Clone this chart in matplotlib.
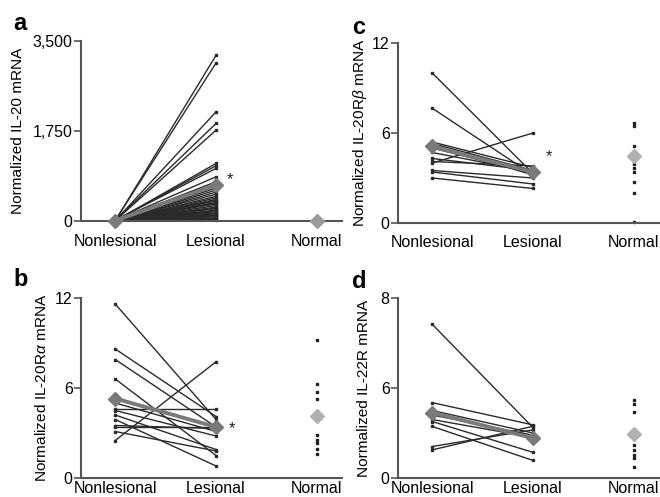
import matplotlib
matplotlib.use("Agg")
import matplotlib.pyplot as plt

plt.rcParams['font.family'] = ['Liberation Sans', 'DejaVu Sans']
plt.rcParams['mathtext.fontset'] = 'custom'
plt.rcParams['mathtext.it'] = 'Liberation Sans:italic'
plt.rcParams['mathtext.rm'] = 'Liberation Sans'

groups = ["Nonlesional", "Lesional", "Normal"]

# a: IL-20
a_nonles = [5, 10, 8, 12, 6, 4, 9, 15, 7, 3, 11, 6, 8, 5, 10, 4, 7, 9, 3, 6,
            8, 5, 12, 4, 7, 6, 9, 3, 5, 8, 4, 6, 7, 5, 3, 6, 4, 8, 5, 7]
a_les = [3222, 3073, 2122, 1896, 1766, 1119, 1074, 1022, 860, 763,
         680, 640, 600, 560, 520, 480, 450, 420, 390, 360,
         330, 300, 270, 240, 210, 180, 160, 140, 120, 100,
         80, 60, 45, 30, 15, 400, 350, 250, 200, 110]
a_normal = [2, 4, 1, 3, 5, 2, 3]
a_mean = [8, 700, 3]

# b: IL-20R alpha
b_nonles = [11.6, 8.6, 7.9, 6.6, 2.5, 4.6, 4.2, 3.9, 3.5, 3.4, 5.0, 3.1, 4.5]
b_les = [3.9, 4.1, 3.4, 1.5, 7.75, 4.6, 1.9, 0.8, 3.3, 3.4, 3.1, 1.8, 2.8]
b_normal = [9.2, 6.25, 5.75, 5.3, 2.9, 2.55, 2.35, 1.95, 1.6]
b_mean = [5.3, 3.4, 4.15]

# c: IL-20R beta
c_nonles = [10.0, 7.65, 4.0, 5.4, 5.3, 5.0, 4.7, 4.1, 3.5, 3.4, 3.0, 4.3, 5.2]
c_les = [3.3, 3.2, 6.0, 3.7, 3.5, 3.3, 3.4, 3.8, 3.0, 2.6, 2.3, 3.5, 3.2]
c_normal = [6.65, 6.45, 5.1, 3.95, 3.65, 3.4, 2.75, 2.0, 0.05]
c_mean = [5.1, 3.4, 4.45]

# d: IL-22R
d_nonles = [6.83, 3.35, 3.0, 2.8, 2.51, 2.29, 1.40, 1.25, 2.6]
d_les = [2.24, 2.36, 2.0, 1.9, 1.14, 0.78, 2.14, 2.3, 1.8]
d_normal = [3.47, 3.29, 2.95, 1.73, 1.48, 1.25, 1.03, 0.89, 0.47]
d_mean = [2.91, 1.77, 1.96]

panels = [
    dict(letter="a", rect=(81, 41, 342, 221), nonles=a_nonles, les=a_les,
         normal=a_normal, mean=a_mean, ylim=3500, yticks=[0, 1750, 3500],
         yticklabels=["0", "1,750", "3,500"], lab_x=-0.215, let_xy=(13, 24), xpad=9,
         ylabel="Normalized IL-20 mRNA", star=(2.14, 800), normal_col="#9a9a9a"),
    dict(letter="c", rect=(398, 43, 659, 223), nonles=c_nonles, les=c_les,
         normal=c_normal, mean=c_mean, ylim=12, yticks=[0, 6, 12],
         yticklabels=["0", "6", "12"], lab_x=-0.111, let_xy=(352, 27), xpad=9,
         ylabel="Normalized IL-20R$\\it{\\beta}$ mRNA", star=(2.16, 4.4), normal_col="#b0b0b0"),
    dict(letter="b", rect=(81, 298, 342, 478), nonles=b_nonles, les=b_les,
         normal=b_normal, mean=b_mean, ylim=12, yticks=[0, 6, 12],
         yticklabels=["0", "6", "12"], lab_x=-0.123, let_xy=(13, 280), xpad=2.5,
         ylabel="Normalized IL-20R$\\it{\\alpha}$ mRNA", star=(2.16, 3.3), normal_col="#b0b0b0"),
    dict(letter="d", rect=(398, 298, 659, 478), nonles=d_nonles, les=d_les,
         normal=d_normal, mean=d_mean, ylim=8, yticks=[0, 4, 8],
         yticklabels=["0", "6", "8"], lab_x=-0.103, let_xy=(352, 282), xpad=2.5,
         ylabel="Normalized IL-22R mRNA", star=None, normal_col="#b0b0b0"),
]

W, H = 660, 497
fig = plt.figure(figsize=(6.6, 4.97), dpi=100)

for p in panels:
    x0, y0, x1, y1 = p["rect"]
    ax = fig.add_axes([x0 / W, 1 - y1 / H, (x1 - x0) / W, (y1 - y0) / H])

    # paired patient lines
    for n, l in zip(p["nonles"], p["les"]):
        ax.plot([1, 2], [n, l], color="#2a2a2a", lw=1.0, marker="s", ms=1.8,
                clip_on=False, zorder=2)

    # normal skin dots
    ax.plot([3] * len(p["normal"]), p["normal"], ls="none", marker="s", ms=2.0,
            color="#202020", clip_on=False, zorder=2)

    # means
    ax.plot([1, 2], p["mean"][:2], color="#7a7a7a", lw=2.8, marker="D", ms=7,
            clip_on=False, zorder=3)
    ax.plot([3], [p["mean"][2]], marker="D", ms=7, color=p["normal_col"],
            ls="none", clip_on=False, zorder=3)

    if p["star"]:
        ax.text(p["star"][0], p["star"][1], "*", fontsize=12, ha="center",
                va="center", color="#222222")

    ax.set_xlim(0.66, 3.25)
    ax.set_ylim(0, p["ylim"])
    ax.set_xticks([1, 2, 3])
    ax.set_xticklabels(groups)
    ax.set_yticks(p["yticks"])
    ax.set_yticklabels(p["yticklabels"])
    ax.set_ylabel(p["ylabel"], fontsize=11.1)
    ax.yaxis.set_label_coords(p["lab_x"], 0.5)

    for s in ["top", "right"]:
        ax.spines[s].set_visible(False)
    for s in ["left", "bottom"]:
        ax.spines[s].set_color("#555555")
        ax.spines[s].set_linewidth(1.5)
    ax.tick_params(axis="x", length=0, pad=p["xpad"], labelsize=11.5)
    ax.tick_params(axis="y", length=5, width=1.2, color="#555555", pad=1,
                   labelsize=11.5)

    fig.text(p["let_xy"][0] / W, 1 - p["let_xy"][1] / H, p["letter"], fontsize=17,
             fontweight="bold", ha="left", va="center")

fig.savefig("out.png", dpi=100)
